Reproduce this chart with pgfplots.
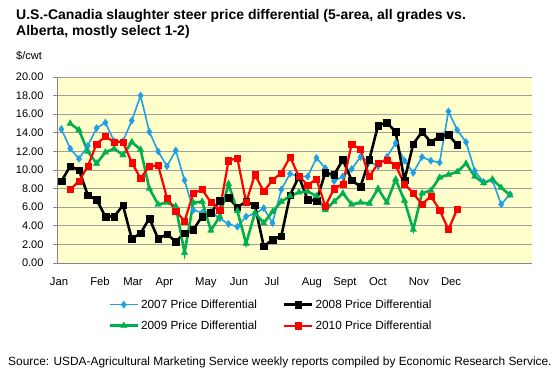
\documentclass[border=0pt]{standalone}
\usepackage{pgfplots}
\pgfplotsset{compat=1.18}
\usepackage{fontspec}
\setmainfont{Liberation Sans}
\definecolor{cblue}{HTML}{1FA0E6}
\definecolor{cgreen}{HTML}{00B050}
\definecolor{cred}{HTML}{FF0000}
\definecolor{cfill}{HTML}{FFFFCC}
\definecolor{cgrid}{HTML}{A0A0A0}
\definecolor{caxis}{HTML}{868686}
\begin{document}
\begin{tikzpicture}[x=1pt,y=1pt]
\useasboundingbox (0,0) rectangle (560,372);
\node[anchor=base west,inner sep=0pt,font=\fontsize{14}{16}\selectfont\bfseries] at (16,352.7) {U.S.-Canadia slaughter steer price differential (5-area, all grades vs.};
\node[anchor=base west,inner sep=0pt,font=\fontsize{14}{16}\selectfont\bfseries] at (16,336) {Alberta, mostly select 1-2)};
\node[anchor=base west,inner sep=0pt,font=\fontsize{11}{13}\selectfont] at (16,312.5) {\$/cwt};
\node[anchor=base west,inner sep=0pt,font=\fontsize{11.9}{13}\selectfont] at (8,6) {Source: USDA-Agricultural Marketing Service weekly reports compiled by Economic Research Service.};
\begin{axis}[
  at={(57pt,109pt)}, anchor=south west,
  scale only axis, width=475pt, height=186pt,
  xmin=-0.5, xmax=53.5, ymin=0, ymax=20,
  axis background/.style={fill=cfill},
  axis x line=bottom, axis y line=left,
  axis line style={caxis, line width=0.9pt, -},
  ytick={0,2,...,20},
  ymajorgrids, grid style={cgrid, line width=0.9pt},
  tick align=outside,
  major tick length=4pt, minor tick length=4pt,
  tick style={caxis, line width=0.7pt},
  xtick=\empty,
  minor xtick={-0.5,0.5,...,53.5},
  extra x ticks={-0.27,4.39,8.14,11.7,16.43,20.2,23.93,28.48,32.23,35.98,40.64,44.3},
  extra x tick labels={Jan,Feb,Mar,Apr,May,Jun,Jul,Aug,Sept,Oct,Nov,Dec},
  extra x tick style={major tick length=0pt, grid=none},
  xticklabel style={font=\fontsize{11.3}{13}\selectfont, yshift=-11pt},
  yticklabel style={font=\fontsize{11}{13}\selectfont, /pgf/number format/fixed, /pgf/number format/precision=2, /pgf/number format/fixed zerofill, xshift=-6pt},
  /pgf/number format/assume math mode=true,
  legend columns=2,
  legend cell align=left,
  legend style={at={(axis description cs:0.108,-0.185)}, anchor=north west, draw=none, fill=none,
    font=\fontsize{11.8}{13}\selectfont, inner sep=0pt,
    nodes={inner sep=2pt}, row sep=7pt,
    /tikz/every even column/.append style={column sep=24pt}},
  legend image code/.code={\draw[mark repeat=2,mark phase=2,#1] plot coordinates {(0pt,0pt)(14pt,0pt)(28pt,0pt)};},
]
\addplot[cblue, line width=1.6pt, mark=diamond*, mark size=3.6pt, mark options={fill=cblue, draw=cblue, line width=0.3pt}] coordinates {
(0,14.4)(1,12.3)(2,11.2)(3,12.6)(4,14.5)(5,15.1)(6,13.1)(7,13.1)(8,15.3)(9,18.0)
(10,14.1)(11,12.0)(12,10.4)(13,12.1)(14,8.9)(15,5.7)(16,5.4)(17,5.5)(18,4.8)(19,4.2)
(20,3.9)(21,5.0)(22,5.3)(23,5.9)(24,4.3)(25,7.9)(26,9.6)(27,9.3)(28,9.3)(29,11.3)
(30,10.2)(31,8.8)(32,9.3)(33,10.1)(34,11.4)(35,10.9)(36,10.4)(37,11.4)(38,12.9)(39,11.0)
(40,9.7)(41,11.4)(42,11.0)(43,10.8)(44,16.3)(45,14.3)(46,13.0)(47,9.9)(48,8.7)(49,8.9)
(50,6.3)(51,7.4)};
\addlegendentry{2007 Price Differential}
\addplot[black, line width=2.6pt, mark=square*, mark size=3.3pt, mark options={fill=black, line width=0.3pt}] coordinates {
(0,8.8)(1,10.4)(2,10.0)(3,7.3)(4,6.8)(5,5.0)(6,5.0)(7,6.2)(8,2.6)(9,3.2)
(10,4.8)(11,2.6)(12,3.1)(13,2.3)(14,3.2)(15,3.6)(16,5.0)(17,5.4)(18,6.7)(19,7.0)
(20,6.0)(21,6.6)(22,6.2)(23,1.8)(24,2.5)(25,2.9)(26,7.3)(27,9.3)(28,6.8)(29,6.7)
(30,9.7)(31,9.5)(32,11.1)(33,8.9)(34,8.2)(35,11.1)(36,14.8)(37,15.1)(38,14.1)(39,8.9)
(40,12.8)(41,14.1)(42,13.0)(43,13.6)(44,13.8)(45,12.7)};
\addlegendentry{2008 Price Differential}
\addplot[cgreen, line width=2.6pt, mark=triangle*, mark size=3.8pt, mark options={fill=cgreen, line width=0.3pt}] coordinates {
(1,15.0)(2,14.3)(3,12.0)(4,10.7)(5,11.9)(6,12.3)(7,11.6)(8,13.0)(9,12.2)
(10,8.0)(11,6.3)(12,6.5)(13,6.1)(14,1.1)(15,6.5)(16,6.6)(17,3.5)(18,5.0)(19,8.5)
(20,5.6)(21,2.1)(22,5.4)(23,4.3)(24,5.5)(25,6.6)(26,7.2)(27,7.6)(28,7.7)(29,7.2)
(30,5.7)(31,6.6)(32,7.5)(33,6.3)(34,6.5)(35,6.4)(36,8.0)(37,6.5)(38,9.0)(39,6.7)
(40,3.6)(41,7.5)(42,7.8)(43,9.2)(44,9.5)(45,9.8)(46,10.7)(47,9.3)(48,8.6)(49,9.0)
(50,8.1)(51,7.3)};
\addlegendentry{2009 Price Differential}
\addplot[cred, line width=2.2pt, mark=square*, mark size=3.1pt, mark options={fill=cred, line width=0.3pt}] coordinates {
(1,7.9)(2,8.8)(3,10.4)(4,12.8)(5,13.6)(6,13.0)(7,13.0)(8,10.8)(9,9.1)
(10,10.4)(11,10.5)(12,7.0)(13,5.6)(14,4.5)(15,7.5)(16,7.9)(17,6.5)(18,5.7)(19,11.0)
(20,11.3)(21,6.5)(22,9.5)(23,7.7)(24,8.9)(25,9.7)(26,11.4)(27,9.3)(28,8.4)(29,9.0)
(30,6.1)(31,8.0)(32,8.5)(33,12.8)(34,12.2)(35,9.3)(36,10.7)(37,11.1)(38,10.5)(39,8.5)
(40,7.5)(41,6.3)(42,7.2)(43,5.7)(44,3.6)(45,5.8)};
\addlegendentry{2010 Price Differential}
\end{axis}
\end{tikzpicture}
\end{document}
